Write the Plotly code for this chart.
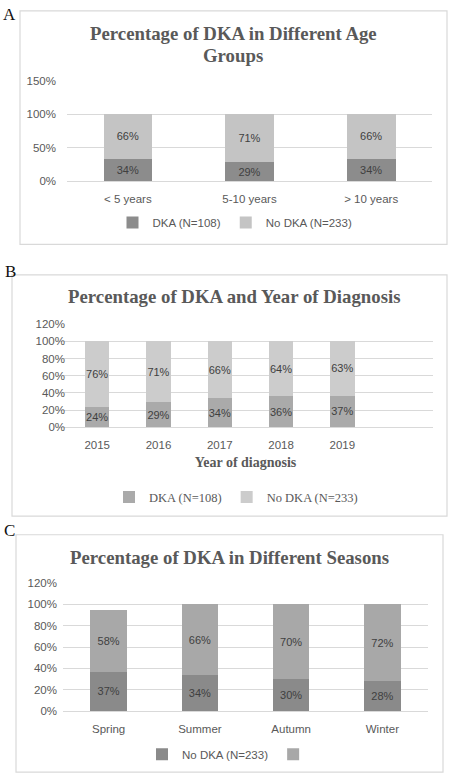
import plotly.graph_objects as go

# ---- data ----
age_groups = ["< 5 years", "5-10 years", "> 10 years"]
age_dka = [34, 29, 34]
age_nodka = [66, 71, 66]

years = ["2015", "2016", "2017", "2018", "2019"]
year_dka = [24, 29, 34, 36, 37]
year_nodka = [76, 71, 66, 64, 63]

seasons = ["Spring", "Summer", "Autumn", "Winter"]
season_dka = [37, 34, 30, 28]
season_nodka = [58, 66, 70, 72]

W, H = 450, 782
def px(x):
    return x / W
def py(y):
    return 1 - y / H

SANS = "Liberation Sans, Arial, sans-serif"
SERIF = "Liberation Serif, Times New Roman, serif"
GRAY = "#595959"
LBL = "#404040"
GRID = "#d9d9d9"

fig = go.Figure()

def add_bar(x, y, name, color, xa, ya, legend, size=11):
    fig.add_trace(go.Bar(
        x=x, y=y, name=name, marker=dict(color=color, line=dict(width=0)),
        xaxis=xa, yaxis=ya, legend=legend,
        text=[f"{v}%" for v in y], texttemplate="%{text}", textposition="inside",
        insidetextanchor="middle", textangle=0, constraintext="none",
        textfont=dict(family=SANS, size=size, color=LBL),
        hoverinfo="x+y+name",
    ))

# Panel A
add_bar(age_groups, age_dka, "DKA (N=108)", "#8c8c8c", "x", "y", "legend")
add_bar(age_groups, age_nodka, "No DKA (N=233)", "#c4c4c4", "x", "y", "legend")
# Panel B
add_bar(years, year_dka, "DKA (N=108)", "#aaaaaa", "x2", "y2", "legend2")
add_bar(years, year_nodka, "No DKA (N=233)", "#cccccc", "x2", "y2", "legend2")
# Panel C
add_bar(seasons, season_dka, "No DKA (N=233)", "#8a8a8a", "x3", "y3", "legend3")
add_bar(seasons, season_nodka, " ", "#a8a8a8", "x3", "y3", "legend3")

tickfont = dict(family=SANS, size=11.5, color=GRAY)

def yax(domain, rng, dtick, standoff):
    return dict(domain=domain, range=rng, dtick=dtick, ticksuffix="%",
                showgrid=True, gridcolor=GRID, gridwidth=1, zeroline=False,
                showline=False, tickfont=tickfont, ticklabelstandoff=standoff,
                fixedrange=True)

def xax(domain, anchor, rng=None, standoff=6):
    d = dict(domain=domain, anchor=anchor, type="category",
             showline=True, linecolor=GRID, linewidth=1, showgrid=False,
             tickfont=tickfont, ticks="", ticklabelstandoff=standoff,
             fixedrange=True)
    if rng is not None:
        d["range"] = rng
    return d

fig.update_layout(
    width=W, height=H, margin=dict(l=0, r=0, t=0, b=0),
    paper_bgcolor="white", plot_bgcolor="rgba(0,0,0,0)",
    barmode="stack", bargap=0.6,
    xaxis=xax([px(67), px(432)], "y", [-0.5, 2.5], 7),
    yaxis=yax([py(178), py(76)], [0, 150], 50, 10),
    xaxis2=xax([px(58), px(433)], "y2", [-0.64, 5.48], 7),
    yaxis2=yax([py(428), py(323)], [0, 120], 20, 1),
    xaxis3=xax([px(63), px(428)], "y3", [-0.5, 3.5], 7),
    yaxis3=yax([py(716), py(586)], [0, 120], 20, 9),
    legend=dict(orientation="h", x=px(235), y=py(220), xanchor="center",
                yanchor="middle", traceorder="normal",
                font=dict(family=SANS, size=11.5, color=GRAY),
                bgcolor="rgba(0,0,0,0)", itemwidth=30),
    legend2=dict(orientation="h", x=px(236), y=py(499), xanchor="center",
                 yanchor="middle", traceorder="normal",
                 font=dict(family=SERIF, size=12.5, color=GRAY),
                 bgcolor="rgba(0,0,0,0)", itemwidth=30),
    legend3=dict(orientation="h", x=px(232), y=py(760), xanchor="center",
                 yanchor="middle", traceorder="normal",
                 font=dict(family=SANS, size=11.5, color=GRAY),
                 bgcolor="rgba(0,0,0,0)", itemwidth=30),
    showlegend=True,
)

fig.layout.xaxis2.title = dict(text="<b>Year of diagnosis</b>", standoff=6,
                               font=dict(family=SERIF, size=14, color=GRAY))

# frames
for (x0, y0, x1, y1) in [(20, 5, 447, 242), (12, 273, 447, 518), (16, 537, 443, 778)]:
    fig.add_shape(type="rect", xref="paper", yref="paper",
                  x0=px(x0), x1=px(x1), y0=py(y0), y1=py(y1),
                  line=dict(color=GRID, width=1.2), fillcolor="rgba(0,0,0,0)",
                  layer="below")

# titles
titles = [
    ("Percentage of DKA in Different Age", 233.5, 28),
    ("Groups", 233.5, 50),
    ("Percentage of DKA and Year of Diagnosis", 234, 295),
    ("Percentage of DKA in Different Seasons", 230, 560),
]
for text, x, y in titles:
    fig.add_annotation(text="<b>" + text + "</b>", xref="paper", yref="paper",
                       x=px(x), y=py(y), xanchor="center", yanchor="middle",
                       showarrow=False,
                       font=dict(family=SERIF, size=18.8, color=GRAY))

# panel letters
for letter, x, y in [("A", 9, 9), ("B", 10, 270), ("C", 9, 533)]:
    fig.add_annotation(text=letter, xref="paper", yref="paper",
                       x=px(x), y=py(y), xanchor="center", yanchor="middle",
                       showarrow=False,
                       font=dict(family=SERIF, size=17, color="#111111"))

fig.write_html("out.html", config={"displayModeBar": False},
               post_script="document.body.style.margin='0';document.body.style.overflow='hidden';")
